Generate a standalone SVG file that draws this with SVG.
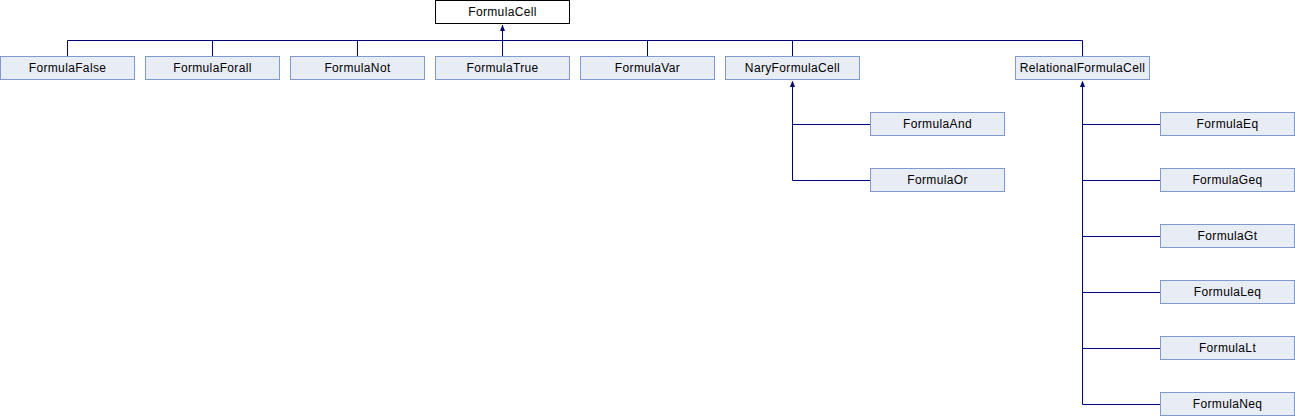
<svg xmlns="http://www.w3.org/2000/svg" width="1295" height="416" viewBox="0 0 1295 416">
<style>
.n rect{fill:#e8ecf4;stroke:#7f9ad0;stroke-width:1}
.root rect{fill:#ffffff;stroke:#000000;stroke-width:1}
text{font-family:"Liberation Sans",Arial,sans-serif;font-size:12px;letter-spacing:0.35px;fill:#000;text-anchor:middle}
.c{fill:none;stroke:#000080;stroke-width:1}
.a{fill:#000080}
</style>
<rect width="1295" height="416" fill="#ffffff"/>
<g id="connectors">
<path class="c" d="M502.5,40.5 V25"/>
<path class="a" d="M502.5,24.5 L505,31 L500,31 Z"/>
<path class="c" d="M67.5,56 V40.5 H1082.5 V56"/>
<path class="c" d="M212.5,40.5 V56 M357.5,40.5 V56 M502.5,40.5 V56 M647.5,40.5 V56 M792.5,40.5 V56"/>
<path class="c" d="M792.5,86 V180.5 H870 M792.5,124.5 H870"/>
<path class="a" d="M792.5,80.5 L795,87 L790,87 Z"/>
<path class="c" d="M1082.5,86 V404.5 H1160 M1082.5,124.5 H1160 M1082.5,180.5 H1160 M1082.5,236.5 H1160 M1082.5,292.5 H1160 M1082.5,348.5 H1160"/>
<path class="a" d="M1082.5,80.5 L1085,87 L1080,87 Z"/>
</g>
<g id="FormulaCell" class="root"><rect x="435.5" y="0.5" width="134" height="23"/><text x="502.5" y="16">FormulaCell</text></g>
<g id="FormulaFalse" class="n"><rect x="0.5" y="56.5" width="134" height="23"/><text x="67.5" y="72">FormulaFalse</text></g>
<g id="FormulaForall" class="n"><rect x="145.5" y="56.5" width="134" height="23"/><text x="212.5" y="72">FormulaForall</text></g>
<g id="FormulaNot" class="n"><rect x="290.5" y="56.5" width="134" height="23"/><text x="357.5" y="72">FormulaNot</text></g>
<g id="FormulaTrue" class="n"><rect x="435.5" y="56.5" width="134" height="23"/><text x="502.5" y="72">FormulaTrue</text></g>
<g id="FormulaVar" class="n"><rect x="580.5" y="56.5" width="134" height="23"/><text x="647.5" y="72">FormulaVar</text></g>
<g id="NaryFormulaCell" class="n"><rect x="725.5" y="56.5" width="134" height="23"/><text x="792.5" y="72">NaryFormulaCell</text></g>
<g id="RelationalFormulaCell" class="n"><rect x="1015.5" y="56.5" width="134" height="23"/><text x="1082.5" y="72">RelationalFormulaCell</text></g>
<g id="FormulaAnd" class="n"><rect x="870.5" y="112.5" width="134" height="23"/><text x="937.5" y="128">FormulaAnd</text></g>
<g id="FormulaOr" class="n"><rect x="870.5" y="168.5" width="134" height="23"/><text x="937.5" y="184">FormulaOr</text></g>
<g id="FormulaEq" class="n"><rect x="1160.5" y="112.5" width="134" height="23"/><text x="1227.5" y="128">FormulaEq</text></g>
<g id="FormulaGeq" class="n"><rect x="1160.5" y="168.5" width="134" height="23"/><text x="1227.5" y="184">FormulaGeq</text></g>
<g id="FormulaGt" class="n"><rect x="1160.5" y="224.5" width="134" height="23"/><text x="1227.5" y="240">FormulaGt</text></g>
<g id="FormulaLeq" class="n"><rect x="1160.5" y="280.5" width="134" height="23"/><text x="1227.5" y="296">FormulaLeq</text></g>
<g id="FormulaLt" class="n"><rect x="1160.5" y="336.5" width="134" height="23"/><text x="1227.5" y="352">FormulaLt</text></g>
<g id="FormulaNeq" class="n"><rect x="1160.5" y="392.5" width="134" height="23"/><text x="1227.5" y="408">FormulaNeq</text></g>
</svg>
